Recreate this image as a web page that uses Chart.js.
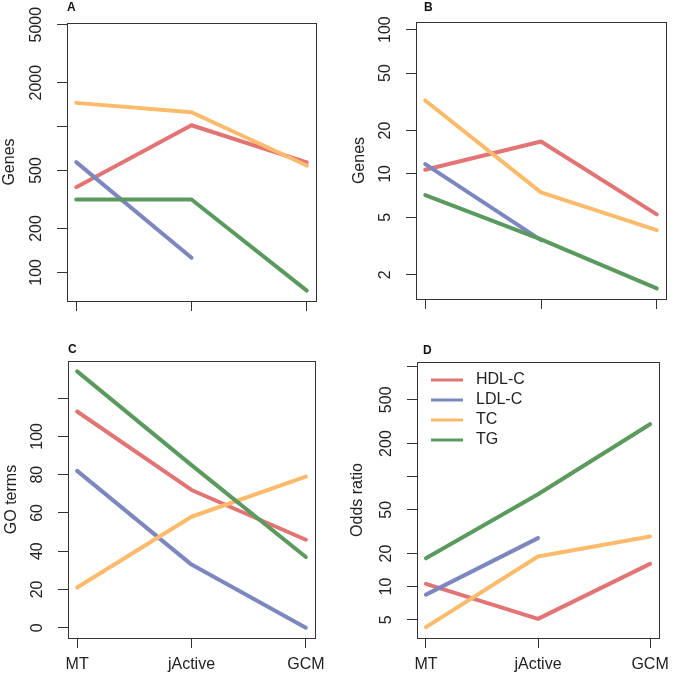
<!DOCTYPE html>
<html>
<head>
<meta charset="utf-8">
<script src="https://cdn.jsdelivr.net/npm/chart.js@4"></script>
<style>
  body { margin: 0; background: #fff; }
  #wrap { position: relative; width: 676px; height: 675px; }
  canvas { position: absolute; }
</style>
</head>
<body>
<div id="wrap">
  <canvas id="panelA" width="338" height="338" style="left:0;top:0"></canvas>
  <canvas id="panelB" width="338" height="338" style="left:338px;top:0"></canvas>
  <canvas id="panelC" width="338" height="337" style="left:0;top:338px"></canvas>
  <canvas id="panelD" width="338" height="337" style="left:338px;top:338px"></canvas>
</div>
<script>
// methods on the x axis
const methods = ["MT", "jActive", "GCM"];
const traits = ["HDL-C", "LDL-C", "TC", "TG"];

// A : genes found
const genesHDL = [384, 1021, 567];
const genesLDL = [570, 126, null];
const genesTC = [1453, 1253, 540];
const genesTG = [316, 316, 75];

// B : known lipid genes
const knownHDL = [10.7, 16.8, 5.25];
const knownLDL = [11.7, 3.48, null];
const knownTC = [32.3, 7.46, 4.08];
const knownTG = [7.14, 3.52, 1.61];

// C : GO terms
const goHDL = [113, 72, 46];
const goLDL = [82, 33, 0];
const goTC = [21, 58, 79];
const goTG = [134, 85, 37];

// D : odds ratio
const oddsHDL = [10.6, 5.09, 16.1];
const oddsLDL = [8.46, 27.6, null];
const oddsTC = [4.28, 18.8, 28.6];
const oddsTG = [18.1, 69.2, 300];

// ticks of the y axes ("" = tick without label)
const ticksA = [100, 200, 500, 1000, 2000, 5000];
const labelsA = ["100", "200", "500", "", "2000", "5000"];
const ticksB = [2, 5, 10, 20, 50, 100];
const labelsB = ["2", "5", "10", "20", "50", "100"];
const ticksC = [0, 20, 40, 60, 80, 100, 120];
const labelsC = ["0", "20", "40", "60", "80", "100", ""];
const ticksD = [5, 10, 20, 50, 100, 200, 500, 1000];
const labelsD = ["5", "10", "20", "50", "", "200", "500", ""];

const couleurs = ["#E27475", "#7C87BF", "#FCBB6B", "#5B9A5E"];
const police = '"Liberation Sans", Arial, Helvetica, sans-serif';

// dessin du cadre, de la lettre, des labels de l'axe y (tournés) et de la légende
const decorPanneau = {
    id: "decorPanneau",
    afterDraw(chart, args, opts) {
        const ctx = chart.ctx;
        const a = chart.chartArea;
        ctx.save();
        ctx.strokeStyle = "#333";
        ctx.lineWidth = 1;
        ctx.strokeRect(Math.round(a.left) + 0.5, Math.round(a.top) + 0.5,
            Math.round(a.right - a.left), Math.round(a.bottom - a.top));

        ctx.fillStyle = "#111";
        ctx.font = "bold 12px " + police;
        ctx.textAlign = "left";
        ctx.textBaseline = "alphabetic";
        ctx.fillText(opts.lettre, opts.lettreX, opts.lettreY);

        const y = chart.scales.y;
        ctx.font = "16px " + police;
        ctx.fillStyle = "#222";
        ctx.textAlign = "center";
        ctx.textBaseline = "middle";
        for (let i = 0; i < opts.ticks.length; i++) {
            if (!opts.labels[i]) continue;
            ctx.save();
            ctx.translate(a.left - 30, y.getPixelForValue(opts.ticks[i]));
            ctx.rotate(-Math.PI / 2);
            ctx.fillText(opts.labels[i], 0, 0);
            ctx.restore();
        }

        if (opts.legende) {
            ctx.textAlign = "left";
            chart.data.datasets.forEach((ds, i) => {
                const ly = a.top + 18 + i * 20;
                ctx.strokeStyle = ds.borderColor;
                ctx.lineWidth = 3;
                ctx.beginPath();
                ctx.moveTo(a.left + 14, ly);
                ctx.lineTo(a.left + 46, ly);
                ctx.stroke();
                ctx.fillStyle = "#222";
                ctx.fillText(ds.label, a.left + 59, ly);
            });
        }
        ctx.restore();
    }
};

function creerPanneau(id, p) {
    const datasets = p.series.map((valeurs, i) => ({
        label: traits[i],
        data: valeurs.map((v, j) => ({ x: j + 1, y: v })),
        borderColor: couleurs[i],
        borderWidth: 4,
        borderCapStyle: "round",
        borderJoinStyle: "round",
        pointRadius: 0,
        tension: 0,
        spanGaps: false,
        order: 3 - i
    }));

    new Chart(document.getElementById(id), {
        type: "line",
        data: { datasets: datasets },
        options: {
            responsive: false,
            animation: false,
            layout: { padding: { top: p.haut, right: p.droite, left: 0, bottom: 0 } },
            plugins: {
                legend: { display: false },
                tooltip: { enabled: false },
                decorPanneau: {
                    lettre: p.lettre, lettreX: p.lettreX, lettreY: p.lettreY,
                    ticks: p.ticks, labels: p.labels, legende: p.legende
                }
            },
            scales: {
                x: {
                    type: "linear",
                    min: 0.92,
                    max: 3.08,
                    afterBuildTicks: s => { s.ticks = methods.map((m, i) => ({ value: i + 1 })); },
                    afterFit: s => { s.height = p.basX; },
                    border: { display: false },
                    grid: { drawOnChartArea: false, drawTicks: true, tickLength: 10, color: "#333" },
                    ticks: {
                        display: p.labelsX,
                        color: "#222",
                        padding: 7,
                        font: { size: 16, family: police },
                        callback: v => methods[v - 1]
                    }
                },
                y: {
                    type: p.typeY,
                    min: p.minY,
                    max: p.maxY,
                    bounds: "data",
                    afterBuildTicks: s => { s.ticks = p.ticks.map(v => ({ value: v })); },
                    afterFit: s => { s.width = p.largeurY; },
                    border: { display: false },
                    grid: { drawOnChartArea: false, drawTicks: true, tickLength: 10, color: "#333" },
                    ticks: { display: false },
                    title: {
                        display: true,
                        text: p.titre,
                        color: "#222",
                        padding: { top: p.padTitre, bottom: 0 },
                        font: { size: 16, family: police }
                    }
                }
            }
        },
        plugins: [decorPanneau]
    });
}

creerPanneau("panelA", {
    series: [genesHDL, genesLDL, genesTC, genesTG],
    typeY: "logarithmic", minY: 63.6, maxY: 5130,
    ticks: ticksA, labels: labelsA, titre: "Genes",
    lettre: "A", lettreX: 67, lettreY: 11,
    largeurY: 67, haut: 23, droite: 22, basX: 37, padTitre: 0, labelsX: false
});

creerPanneau("panelB", {
    series: [knownHDL, knownLDL, knownTC, knownTG],
    typeY: "logarithmic", minY: 1.36, maxY: 113,
    ticks: ticksB, labels: labelsB, titre: "Genes",
    lettre: "B", lettreX: 86, lettreY: 11,
    largeurY: 78, haut: 22, droite: 10, basX: 39, padTitre: 12, labelsX: false
});

creerPanneau("panelC", {
    series: [goHDL, goLDL, goTC, goTG],
    typeY: "linear", minY: -5.36, maxY: 139.4,
    ticks: ticksC, labels: labelsC, titre: "GO terms",
    lettre: "C", lettreX: 68, lettreY: 15,
    largeurY: 68, haut: 23, droite: 23, basX: 37, padTitre: 2, labelsX: true
});

creerPanneau("panelD", {
    series: [oddsHDL, oddsLDL, oddsTC, oddsTG],
    typeY: "logarithmic", minY: 3.41, maxY: 1103,
    ticks: ticksD, labels: labelsD, titre: "Odds ratio",
    lettre: "D", lettreX: 85, lettreY: 16,
    largeurY: 79, haut: 24, droite: 8, basX: 37, padTitre: 10, labelsX: true,
    legende: true
});
</script>
</body>
</html>
